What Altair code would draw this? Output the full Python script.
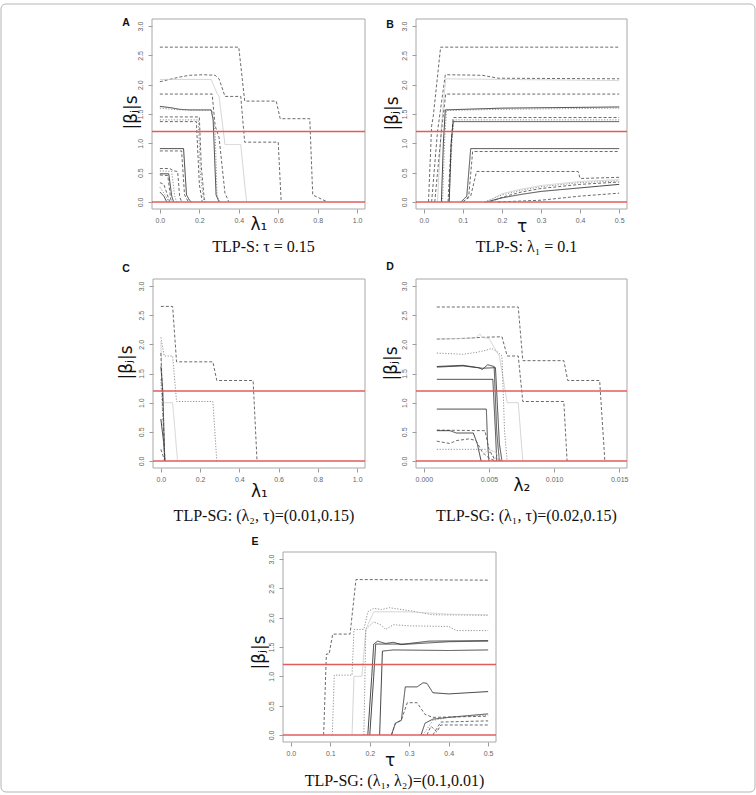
import altair as alt
import pandas as pd

# ---------------- styles ----------------
STYLES = ["solid", "dashed", "dotted", "light"]
STYLE_COLORS = ["#303030", "#505050", "#767676", "#c4c4c4"]
STYLE_DASH = [[1, 0], [3, 2], [1.2, 1.6], [1, 0]]
STYLE_WIDTH = [0.9, 0.75, 0.85, 1.0]
REF_LINES = [0.0, 1.2]
Y_TICKS = [0, 0.5, 1.0, 1.5, 2.0, 2.5, 3.0]
Y_DOMAIN = [-0.12, 3.12]

# ---------------- data: (style, x values, |beta_j| values) ----------------
A_PATHS = [
    ("dashed", [0, 0.40, 0.43, 0.59, 0.61, 0.76, 0.775, 0.85], [2.64, 2.64, 1.72, 1.72, 1.42, 1.42, 0.12, 0.0]),
    ("dashed", [0, 0.05, 0.10, 0.15, 0.22, 0.28, 0.30, 0.33, 0.41, 0.43, 0.60, 0.615], [2.05, 2.09, 2.13, 2.16, 2.17, 2.16, 2.10, 1.80, 1.80, 1.02, 1.02, 0]),
    ("light", [0, 0.26, 0.29, 0.30, 0.33, 0.41, 0.43, 0.44], [2.09, 2.09, 1.85, 1.80, 0.98, 0.98, 0.30, 0]),
    ("dashed", [0, 0.265, 0.28, 0.30, 0.33, 0.35], [1.84, 1.84, 1.30, 1.10, 0.15, 0]),
    ("solid", [0, 0.05, 0.10, 0.15, 0.26, 0.27, 0.285, 0.30], [1.63, 1.61, 1.58, 1.57, 1.57, 1.40, 0.12, 0]),
    ("dotted", [0, 0.10, 0.265, 0.28, 0.29, 0.305], [1.60, 1.57, 1.56, 1.20, 0.10, 0]),
    ("dashed", [0, 0.20, 0.21, 0.225, 0.235], [1.45, 1.45, 0.60, 0.05, 0]),
    ("dotted", [0, 0.195, 0.205, 0.22, 0.23], [1.40, 1.40, 0.50, 0.05, 0]),
    ("dashed", [0, 0.185, 0.20, 0.215], [1.37, 1.37, 0.30, 0]),
    ("solid", [0, 0.12, 0.135, 0.15, 0.16], [0.91, 0.91, 0.12, 0.03, 0]),
    ("dashed", [0, 0.11, 0.125, 0.145], [0.87, 0.87, 0.12, 0]),
    ("dashed", [0, 0.05, 0.07, 0.09, 0.10, 0.11], [0.57, 0.57, 0.53, 0.52, 0.10, 0]),
    ("dotted", [0, 0.06, 0.075, 0.085], [0.53, 0.52, 0.10, 0]),
    ("solid", [0, 0.045, 0.06, 0.07], [0.48, 0.48, 0.10, 0]),
    ("dashed", [0, 0.04, 0.055, 0.06], [0.46, 0.45, 0.05, 0]),
    ("dashed", [0, 0.02, 0.04, 0.05], [0.33, 0.30, 0.10, 0]),
    ("solid", [0, 0.02, 0.035], [0.17, 0.10, 0]),
    ("dotted", [0, 0.03, 0.045], [0.25, 0.10, 0]),
]

B_PATHS = [
    ("dashed", [0.012, 0.02, 0.024, 0.043, 0.5], [0, 1.30, 1.45, 2.64, 2.64]),
    ("dashed", [0.02, 0.035, 0.055, 0.15, 0.19, 0.5], [0, 1.20, 2.17, 2.16, 2.11, 2.10]),
    ("light", [0.035, 0.045, 0.056, 0.2, 0.5], [0, 1.30, 2.10, 2.09, 2.07]),
    ("dashed", [0.028, 0.045, 0.056, 0.5], [0, 1.20, 1.84, 1.84]),
    ("solid", [0.045, 0.05, 0.055, 0.2, 0.5], [0, 1.00, 1.57, 1.60, 1.62]),
    ("dotted", [0.048, 0.053, 0.058, 0.2, 0.5], [0, 1.00, 1.56, 1.58, 1.60]),
    ("dashed", [0.062, 0.07, 0.075, 0.5], [0, 1.00, 1.44, 1.44]),
    ("dotted", [0.064, 0.072, 0.077, 0.5], [0, 1.00, 1.40, 1.40]),
    ("solid", [0.065, 0.07, 0.075, 0.5], [0, 1.00, 1.37, 1.37]),
    ("solid", [0.095, 0.11, 0.12, 0.5], [0, 0.10, 0.91, 0.91]),
    ("dashed", [0.10, 0.115, 0.125, 0.5], [0, 0.10, 0.86, 0.86]),
    ("dashed", [0.10, 0.12, 0.135, 0.395, 0.40, 0.5], [0, 0.10, 0.52, 0.52, 0.40, 0.42]),
    ("solid", [0.16, 0.2, 0.25, 0.3, 0.35, 0.4, 0.45, 0.5], [0, 0.07, 0.13, 0.18, 0.21, 0.24, 0.27, 0.30]),
    ("dotted", [0.155, 0.2, 0.25, 0.3, 0.4, 0.5], [0, 0.12, 0.20, 0.26, 0.33, 0.36]),
    ("light", [0.16, 0.2, 0.25, 0.3, 0.4, 0.5], [0, 0.14, 0.22, 0.28, 0.35, 0.38]),
    ("dashed", [0.17, 0.2, 0.25, 0.3, 0.4, 0.5], [0, 0.08, 0.17, 0.23, 0.30, 0.34]),
    ("dashed", [0.19, 0.3, 0.4, 0.5], [0, 0.03, 0.10, 0.15]),
]

C_PATHS = [
    ("dashed", [0, 0.06, 0.08, 0.265, 0.285, 0.47, 0.49], [2.65, 2.65, 1.70, 1.70, 1.38, 1.38, 0]),
    ("dotted", [0, 0.017, 0.06, 0.08, 0.265, 0.285], [2.12, 1.80, 1.80, 1.02, 1.02, 0]),
    ("light", [0, 0.01, 0.06, 0.085], [2.05, 1.00, 1.00, 0]),
    ("dashed", [0, 0.02], [1.85, 0]),
    ("solid", [0, 0.01, 0.02], [1.62, 1.20, 0]),
    ("solid", [0, 0.015, 0.02], [0.72, 0.30, 0]),
    ("dashed", [0, 0.01, 0.02], [0.20, 0.10, 0]),
    ("dotted", [0, 0.012, 0.022], [1.40, 0.60, 0]),
]

D_PATHS = [
    ("dashed", [0.001, 0.00725, 0.0076, 0.01075, 0.01105, 0.0135, 0.0139], [2.64, 2.64, 1.72, 1.72, 1.38, 1.38, 0]),
    ("dashed", [0.001, 0.003, 0.0045, 0.006, 0.0064, 0.00725, 0.0076, 0.01075, 0.011], [2.09, 2.10, 2.12, 2.13, 1.80, 1.80, 1.02, 1.02, 0]),
    ("light", [0.001, 0.004, 0.0043, 0.0045, 0.005, 0.0058, 0.0064, 0.00725, 0.0076], [2.09, 2.11, 2.18, 2.12, 2.10, 1.80, 1.00, 1.00, 0]),
    ("dotted", [0.001, 0.003, 0.004, 0.0048, 0.0052, 0.0056, 0.006, 0.0062, 0.0064], [1.85, 1.83, 1.86, 1.90, 1.93, 1.88, 1.80, 0.50, 0]),
    ("solid", [0.001, 0.003, 0.0042, 0.0045, 0.0049, 0.0054, 0.0056, 0.0058], [1.62, 1.64, 1.60, 1.57, 1.65, 1.62, 0.50, 0]),
    ("solid", [0.001, 0.003, 0.0045, 0.0055, 0.0058, 0.006], [1.61, 1.63, 1.59, 1.60, 0.30, 0]),
    ("solid", [0.001, 0.0053, 0.0055, 0.0056], [1.40, 1.40, 0.50, 0]),
    ("solid", [0.001, 0.0048, 0.0049, 0.005], [0.89, 0.89, 0.30, 0]),
    ("dashed", [0.001, 0.0047, 0.005, 0.0055], [0.53, 0.52, 0.20, 0]),
    ("solid", [0.001, 0.002, 0.0025, 0.0038, 0.0041, 0.0044], [0.52, 0.52, 0.48, 0.48, 0.30, 0]),
    ("dashed", [0.001, 0.002, 0.0025, 0.0035, 0.004, 0.0045, 0.005, 0.0055], [0.34, 0.30, 0.35, 0.38, 0.35, 0.15, 0.05, 0]),
    ("dotted", [0.001, 0.0048, 0.0055, 0.006], [0.20, 0.20, 0.05, 0]),
    ("light", [0.0045, 0.005, 0.0055, 0.006], [0.10, 0.20, 0.15, 0]),
]

E_PATHS = [
    ("dashed", [0.083, 0.09, 0.097, 0.106, 0.15, 0.165, 0.5], [0, 1.38, 1.38, 1.72, 1.72, 2.65, 2.64]),
    ("dotted", [0.105, 0.11, 0.155, 0.16, 0.185, 0.195, 0.21, 0.23, 0.25, 0.3, 0.36, 0.5], [0, 1.02, 1.02, 1.80, 1.80, 2.10, 2.16, 2.14, 2.17, 2.12, 2.05, 2.04]),
    ("light", [0.155, 0.16, 0.18, 0.19, 0.21, 0.3, 0.4, 0.5], [0, 1.00, 1.00, 1.80, 2.10, 2.10, 2.06, 2.05]),
    ("dotted", [0.185, 0.19, 0.21, 0.23, 0.24, 0.26, 0.3, 0.4, 0.42, 0.5], [0, 1.80, 1.93, 1.87, 1.80, 1.88, 1.86, 1.85, 1.78, 1.78]),
    ("solid", [0.195, 0.205, 0.21, 0.22, 0.24, 0.26, 0.28, 0.3, 0.35, 0.5], [0, 1.00, 1.55, 1.60, 1.56, 1.58, 1.54, 1.56, 1.60, 1.61]),
    ("solid", [0.2, 0.21, 0.215, 0.3, 0.4, 0.5], [0, 1.00, 1.55, 1.55, 1.59, 1.60]),
    ("solid", [0.225, 0.232, 0.26, 0.4, 0.5], [0, 1.43, 1.45, 1.44, 1.45]),
    ("solid", [0.255, 0.265, 0.28, 0.29, 0.32, 0.335, 0.345, 0.36, 0.4, 0.5], [0, 0.20, 0.25, 0.82, 0.82, 0.89, 0.88, 0.72, 0.70, 0.74]),
    ("dashed", [0.255, 0.265, 0.28, 0.295, 0.32, 0.34, 0.36, 0.5], [0, 0.20, 0.25, 0.55, 0.55, 0.35, 0.30, 0.32]),
    ("solid", [0.33, 0.34, 0.36, 0.4, 0.5], [0, 0.20, 0.27, 0.30, 0.36]),
    ("dotted", [0.335, 0.36, 0.4, 0.5], [0, 0.25, 0.30, 0.34]),
    ("dashed", [0.36, 0.38, 0.5], [0, 0.22, 0.24]),
    ("dashed", [0.345, 0.355, 0.37, 0.38, 0.5], [0, 0.15, 0.05, 0.17, 0.17]),
]

LAMBDA_TICKS = [0, 0.2, 0.4, 0.6, 0.8, 1.0]
TAU_TICKS = [0, 0.1, 0.2, 0.3, 0.4, 0.5]
LAMBDA2_TICKS = [0, 0.005, 0.010, 0.015]

W_TOTAL, H_TOTAL = 756, 795


def to_frame(paths):
    rows = []
    for pid, (style, xs, ys) in enumerate(paths):
        for i, (x, y) in enumerate(zip(xs, ys)):
            rows.append({"pid": pid, "style": style, "i": i, "x": x, "v": y})
    return pd.DataFrame(rows)


def panel(paths, xdom, xticks, xfmt, xtitle, letter, caption, box,
          letter_dx, letter_dy, cap_dy, xtitle_y, ytitle_x, ytitle_y):
    x0, x1, yt, yb = box
    xscale = alt.Scale(domain=xdom, range=[x0, x1], nice=False, zero=False)
    yscale = alt.Scale(domain=Y_DOMAIN, range=[yb, yt], nice=False, zero=False)
    xaxis = alt.Axis(orient="bottom", offset=yb - H_TOTAL, values=xticks, format=xfmt,
                     title=xtitle, titleY=xtitle_y, titleBaseline="alphabetic",
                     titleAlign="center", labelBaseline="middle")
    yaxis = alt.Axis(orient="left", offset=-x0, values=Y_TICKS, format=".1f", title="|βⱼ|s",
                     labelAngle=270, labelAlign="center", labelBaseline="middle", labelPadding=8,
                     titleAngle=270, titleX=ytitle_x, titleY=yt + ytitle_y,
                     titleAlign="center", titleBaseline="middle")

    frame_box = alt.Chart(pd.DataFrame({"a": [0]})).mark_rect(
        fillOpacity=0, stroke="#a8a8a8", strokeWidth=1
    ).encode(
        x=alt.X(datum=xdom[0], type="quantitative", scale=xscale, axis=xaxis),
        x2=alt.datum(xdom[1]),
        y=alt.Y(datum=Y_DOMAIN[0], type="quantitative", scale=yscale, axis=yaxis),
        y2=alt.datum(Y_DOMAIN[1]),
    )

    lines = alt.Chart(to_frame(paths)).mark_line().encode(
        x=alt.X("x:Q", scale=xscale, axis=xaxis),
        y=alt.Y("v:Q", scale=yscale, axis=yaxis),
        color=alt.Color("style:N", scale=alt.Scale(domain=STYLES, range=STYLE_COLORS), legend=None),
        strokeDash=alt.StrokeDash("style:N", scale=alt.Scale(domain=STYLES, range=STYLE_DASH), legend=None),
        strokeWidth=alt.StrokeWidth("style:N", scale=alt.Scale(domain=STYLES, range=STYLE_WIDTH), legend=None),
        detail="pid:N",
        order="i:Q",
    )
    rules = alt.Chart(pd.DataFrame({"v": REF_LINES})).mark_rule(
        color="#e25c5c", strokeWidth=1.5
    ).encode(
        y=alt.Y("v:Q", scale=yscale, axis=yaxis),
        x=alt.X(datum=xdom[0], type="quantitative", scale=xscale, axis=xaxis),
        x2=alt.datum(xdom[1]),
    )

    lab = alt.Chart(pd.DataFrame({"t": [letter]})).mark_text(
        font="Liberation Sans", fontSize=10.5, fontWeight="bold", color="#111",
        align="center", baseline="middle"
    ).encode(text="t:N", x=alt.value(x0 + letter_dx), y=alt.value(yt + letter_dy))

    cap = alt.Chart(pd.DataFrame({"t": [caption]})).mark_text(
        font="Liberation Serif", fontSize=16, color="#111",
        align="center", baseline="alphabetic"
    ).encode(text="t:N", x=alt.value((x0 + x1) / 2 + 5), y=alt.value(yb + cap_dy))

    return alt.layer(frame_box, lines, rules, lab, cap)


pA = panel(A_PATHS, [-0.04, 1.04], LAMBDA_TICKS, ".1f", "λ₁", "A", "TLP-S: τ = 0.15",
           (152, 365, 19, 209), -26, 4, 43, 20, -21, 93)
pB = panel(B_PATHS, [-0.02, 0.52], TAU_TICKS, ".1f", "τ", "B", "TLP-S: λ₁ = 0.1",
           (416, 627, 19, 209), -26, 6, 43, 22, -24, 94)
pC = panel(C_PATHS, [-0.04, 1.04], LAMBDA_TICKS, ".1f", "λ₁", "C", "TLP-SG: (λ₂, τ)=(0.01,0.15)",
           (153, 365, 279, 468), -27, -10, 53, 28, -27, 83)
pD = panel(D_PATHS, [-0.0006, 0.0156], LAMBDA2_TICKS, ".3f", "λ₂", "D", "TLP-SG: (λ₁, τ)=(0.02,0.15)",
           (416, 627, 279, 468), -26, -12, 53, 22, -25, 84)
pE = panel(E_PATHS, [-0.02, 0.52], TAU_TICKS, ".1f", "τ", "E", "TLP-SG: (λ₁, λ₂)=(0.1,0.01)",
           (283, 496, 552, 742), -28, -10, 44, 23, -24, 100)

outer = alt.Chart(pd.DataFrame({"a": [0]})).mark_rect(
    fillOpacity=0, stroke="#b5b5b5", strokeWidth=1, cornerRadius=5
).encode(x=alt.value(1), x2=alt.value(755), y=alt.value(4), y2=alt.value(792))

chart = alt.layer(outer, pA, pB, pC, pD, pE).resolve_scale(
    x="independent", y="independent"
).resolve_axis(
    x="independent", y="independent"
).properties(
    width=W_TOTAL, height=H_TOTAL, autosize="none", padding=0, background="white",
).configure_view(
    strokeWidth=0
).configure_axis(
    grid=False, domain=False, ticks=True, tickColor="#9a9a9a", tickSize=4, tickWidth=1,
    labelColor="#666666", labelFont="Liberation Sans", labelFontSize=7,
    labelPadding=7.5, labelFlush=False, labelOverlap=False,
    titleFont="DejaVu Sans", titleFontSize=17, titleFontWeight="normal", titleColor="#111111",
)

chart.save("out.html", embed_options={"renderer": "svg", "actions": False})
